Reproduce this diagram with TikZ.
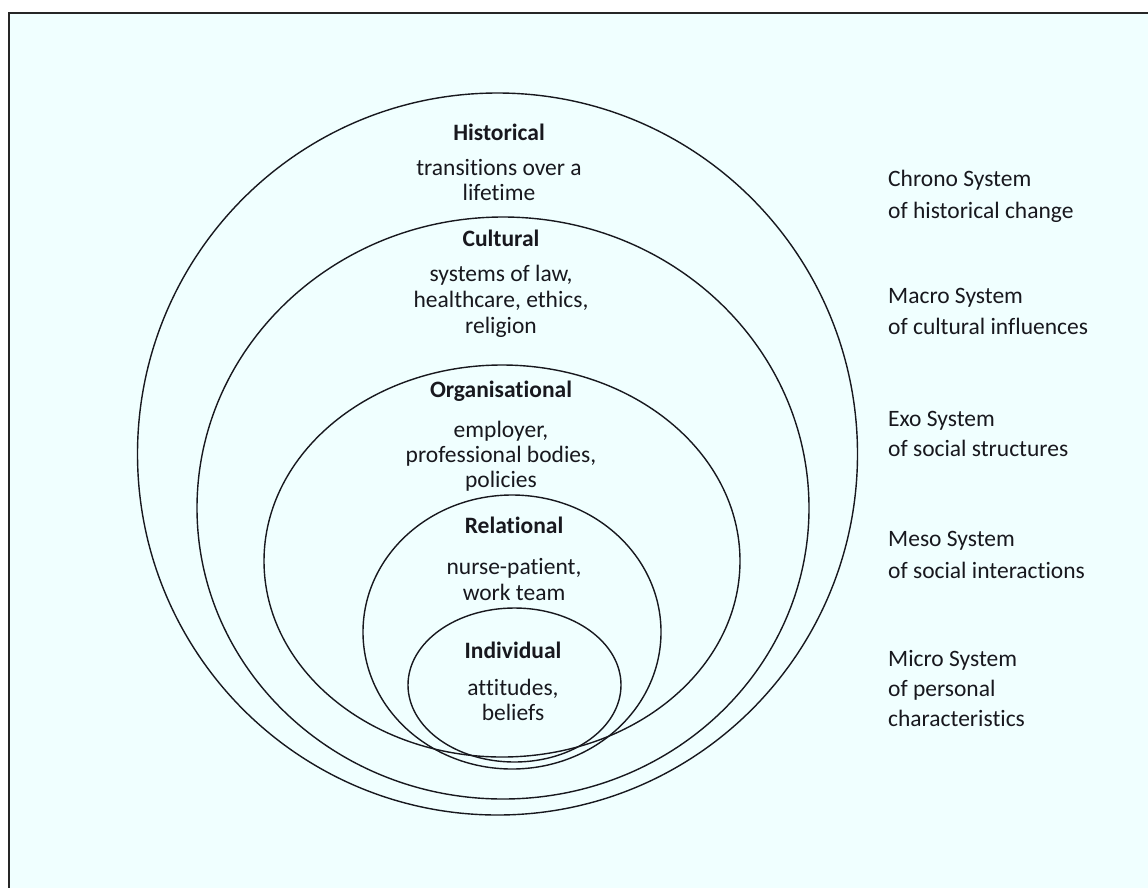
\documentclass[tikz,border=0pt]{standalone}
\usepackage{fontspec}
\setmainfont{Carlito}[Ligatures={NoCommon,NoContextual}]
\definecolor{paper}{RGB}{240,255,255}
\definecolor{ink}{RGB}{24,24,30}
\begin{document}
\begin{tikzpicture}[x=1pt,y=-1pt,
  ring/.style={draw=ink, line width=1.4pt},
  head/.style={anchor=base, inner sep=0pt, text=ink, font=\fontsize{23.5}{25}\selectfont\bfseries},
  body/.style={anchor=base, inner sep=0pt, text=ink, font=\fontsize{23.5}{25}\selectfont},
  side/.style={anchor=base west, inner sep=0pt, text=ink, font=\fontsize{23.5}{25}\selectfont}]
\useasboundingbox (0,0) rectangle (1148,887);
\clip (0,0) rectangle (1148,887);

% panel with its frame
\fill[paper] (9,13) rectangle (1170,900);
\draw[line width=2pt, black!85] (9,900) -- (9,13) -- (1170,13);

% nested system rings
\draw[ring] (497.5,454) ellipse [x radius=360pt, y radius=361pt];
\draw[ring] (503,508) ellipse [x radius=306pt, y radius=291pt];
\draw[ring] (502,561) ellipse [x radius=238pt, y radius=196pt];
\draw[ring] (512,632) ellipse [x radius=149pt, y radius=137pt];
\draw[ring] (514.5,685) ellipse [x radius=106.5pt, y radius=77pt];

% ring labels
\node[head] (histT) at (499,140) {Historical};
\node[body] (hist1) at (499,175) {transitions over a};
\node[body] (hist2) at (499,200) {lifetime};

\node[head] (cultT) at (501,246) {Cultural};
\node[body] (cult1) at (501,281) {systems of law,};
\node[body] (cult2) at (501,307) {healthcare, ethics,};
\node[body] (cult3) at (501,333) {religion};

\node[head] (orgT) at (501,397) {Organisational};
\node[body] (org1) at (501,437) {employer,};
\node[body] (org2) at (501,462) {professional bodies,};
\node[body] (org3) at (501,487) {policies};

\node[head] (relT) at (514,533) {Relational};
\node[body] (rel1) at (514,574) {nurse-patient,};
\node[body] (rel2) at (514,600) {work team};

\node[head] (indT) at (513,658) {Individual};
\node[body] (ind1) at (513,695) {attitudes,};
\node[body] (ind2) at (513,720) {beliefs};

% system names on the right
\node[side] (chrono1) at (888,186) {Chrono System};
\node[side] (chrono2) at (888,218) {of historical change};
\node[side] (macro1) at (888,303) {Macro System};
\node[side] (macro2) at (888,334) {of cultural influences};
\node[side] (exo1) at (888,426) {Exo System};
\node[side] (exo2) at (888,456) {of social structures};
\node[side] (meso1) at (888,546) {Meso System};
\node[side] (meso2) at (888,578) {of social interactions};
\node[side] (micro1) at (888,666) {Micro System};
\node[side] (micro2) at (888,696) {of personal};
\node[side] (micro3) at (888,726) {characteristics};
\end{tikzpicture}
\end{document}
